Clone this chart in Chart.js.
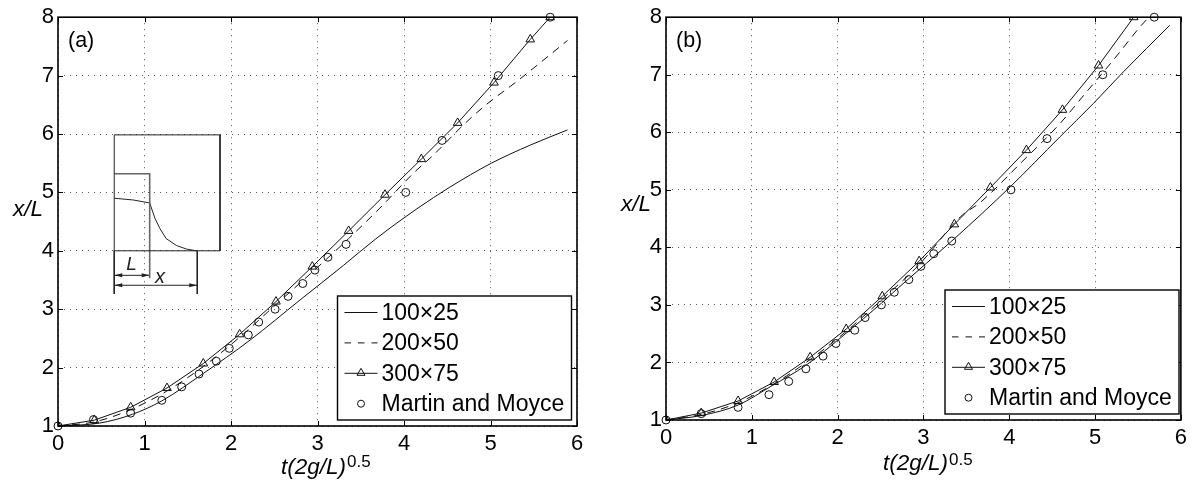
<!DOCTYPE html>
<html>
<head>
<meta charset="utf-8">
<script src="https://cdn.jsdelivr.net/npm/chart.js@4/dist/chart.umd.min.js"></script>
<style>
  body { margin: 0; background: #fff; }
  canvas { position: absolute; top: 0; }
  #chartA { left: 0; }
  #chartB { left: 596px; }
</style>
</head>
<body>
<canvas id="chartA" width="596" height="481"></canvas>
<canvas id="chartB" width="596" height="481"></canvas>
<script>
const seriesNames = ['100×25', '200×50', '300×75', 'Martin and Moyce'];
const xTicks = [0, 1, 2, 3, 4, 5, 6];
const yTicks = [1, 2, 3, 4, 5, 6, 7, 8];

const moyceX = [0, 0.41, 0.84, 1.2, 1.43, 1.63, 1.83, 1.98, 2.2, 2.32, 2.51, 2.66, 2.83, 2.97, 3.12, 3.33, 4.02, 4.44, 5.09, 5.69];
const moyceY = [1, 1.11, 1.22, 1.44, 1.67, 1.89, 2.11, 2.33, 2.56, 2.78, 3, 3.22, 3.44, 3.67, 3.89, 4.11, 5, 5.89, 7, 8];

// panel (a)
const a100X = [0, 0.48, 0.86, 1.2, 1.68, 2.22, 2.8, 3.3, 3.67, 4.15, 4.53, 5.01, 5.46, 5.89];
const a100Y = [1, 1.05, 1.2, 1.43, 1.9, 2.47, 3.16, 3.75, 4.2, 4.72, 5.09, 5.5, 5.81, 6.07];
const a200X = [0, 0.42, 0.84, 1.26, 1.68, 2.1, 2.52, 2.95, 3.36, 3.72, 4.11, 4.34, 4.69, 4.94, 5.33, 5.89];
const a200Y = [1, 1.07, 1.28, 1.6, 2.02, 2.52, 3.08, 3.65, 4.21, 4.73, 5.33, 5.64, 6.16, 6.49, 6.93, 7.6];
const a300X = [0, 0.42, 0.84, 1.26, 1.68, 2.1, 2.52, 2.94, 3.36, 3.78, 4.2, 4.62, 5.04, 5.46, 5.69];
const a300Y = [1, 1.1, 1.32, 1.65, 2.07, 2.57, 3.13, 3.73, 4.34, 4.96, 5.57, 6.19, 6.88, 7.62, 8];

// panel (b)
const b100X = [0, 0.42, 0.84, 1.24, 1.63, 2.1, 2.51, 2.71, 3.36, 4.01, 4.59, 4.98, 5.33, 5.87];
const b100Y = [1, 1.08, 1.26, 1.6, 1.95, 2.51, 3.03, 3.3, 4.15, 5.05, 5.92, 6.5, 7.05, 7.86];
const b200X = [0, 0.42, 0.84, 1.26, 1.68, 2.1, 2.52, 2.95, 3.43, 3.67, 4.13, 4.59, 4.9, 5.21, 5.54, 5.64];
const b200Y = [1, 1.1, 1.3, 1.63, 2.05, 2.54, 3.1, 3.7, 4.53, 4.79, 5.46, 6.15, 6.7, 7.25, 7.86, 8.02];
const b300X = [0, 0.41, 0.84, 1.26, 1.68, 2.1, 2.52, 2.95, 3.36, 3.78, 4.2, 4.62, 5.04, 5.45];
const b300Y = [1, 1.12, 1.33, 1.66, 2.09, 2.58, 3.15, 3.76, 4.4, 5.04, 5.69, 6.39, 7.16, 8];

// inset sketch in panel (a), in axis units
const insetBoxX = [0.65, 1.873, 1.873, 0.65, 0.65];
const insetBoxY = [5.985, 5.985, 4, 4, 5.985];
const insetStepX = [0.65, 1.06, 1.06];
const insetStepY = [5.32, 5.32, 3.53];
const insetCurveX = [0.65, 0.87, 1.06, 1.12, 1.175, 1.25, 1.37, 1.485, 1.6];
const insetCurveY = [4.9, 4.87, 4.82, 4.56, 4.39, 4.21, 4.09, 4.03, 4];
const insetTickLX = [0.65, 0.65];
const insetTickLY = [4, 3.26];
const insetTickXX = [1.61, 1.61];
const insetTickXY = [4, 3.26];
const arrowLX = [0.65, 1.06];
const arrowLY = [3.58, 3.58];
const arrowXX = [0.65, 1.61];
const arrowXY = [3.41, 3.41];

const pts = (xs, ys) => xs.map((x, i) => ({ x: x, y: ys[i] }));
const FONT = '"Liberation Sans", Arial, sans-serif';
const INK = '#111';

function sketchLine(xs, ys, color, width) {
  return {
    label: '', data: pts(xs, ys), borderColor: color || '#222', borderWidth: width || 1,
    pointRadius: 0, tension: 0
  };
}

function mainSets(x100, y100, x200, y200, x300, y300) {
  return [
    { label: seriesNames[0], data: pts(x100, y100), borderColor: INK, borderWidth: 1, pointRadius: 0, cubicInterpolationMode: 'monotone' },
    { label: seriesNames[1], data: pts(x200, y200), borderColor: INK, borderWidth: 1, borderDash: [8, 6], pointRadius: 0, cubicInterpolationMode: 'monotone' },
    { label: seriesNames[2], data: pts(x300, y300), borderColor: INK, borderWidth: 1, pointStyle: 'triangle', pointRadius: 5, pointBorderColor: INK, pointBackgroundColor: 'transparent', pointBorderWidth: 1, tension: 0 },
    { label: seriesNames[3], data: pts(moyceX, moyceY), showLine: false, borderColor: INK, pointStyle: 'circle', pointRadius: 4, pointBorderColor: INK, pointBackgroundColor: 'transparent', pointBorderWidth: 1, clip: false }
  ];
}

// frame, inward ticks, axis titles, panel tag, legend box
const panelDecor = {
  id: 'panelDecor',
  afterDatasetsDraw(chart, args, o) {
    const { ctx, chartArea: c, scales: { x, y } } = chart;
    ctx.save();
    ctx.strokeStyle = '#000';
    ctx.lineWidth = 1;
    xTicks.forEach(v => {
      const p = Math.round(x.getPixelForValue(v)) + 0.5;
      ctx.beginPath();
      ctx.moveTo(p, c.top); ctx.lineTo(p, c.top + 5);
      ctx.moveTo(p, c.bottom); ctx.lineTo(p, c.bottom - 5);
      ctx.stroke();
    });
    yTicks.forEach(v => {
      const p = Math.round(y.getPixelForValue(v)) + 0.5;
      ctx.beginPath();
      ctx.moveTo(c.left, p); ctx.lineTo(c.left + 5, p);
      ctx.moveTo(c.right, p); ctx.lineTo(c.right - 5, p);
      ctx.stroke();
    });
    ctx.lineWidth = 1.6;
    ctx.strokeRect(c.left, c.top, c.right - c.left, c.bottom - c.top);

    ctx.fillStyle = '#000';
    ctx.textBaseline = 'alphabetic';
    ctx.textAlign = 'left';
    ctx.font = '21.5px ' + FONT;
    ctx.fillText(o.tag, c.left + 10, c.top + 30);

    ctx.font = 'italic 22.5px ' + FONT;
    ctx.fillText('x/L', o.yTitleX, o.yTitleY);
    ctx.fillText('t(2g/L)', o.xTitleX, o.xTitleBase);
    const w = ctx.measureText('t(2g/L)').width;
    ctx.font = '17px ' + FONT;
    ctx.fillText('0.5', o.xTitleX + w + 1, o.xSupBase);

    // legend
    const lg = o.legend;
    ctx.fillStyle = '#fff';
    ctx.fillRect(lg.left, lg.top, lg.right - lg.left, lg.bottom - lg.top);
    ctx.lineWidth = 1.4;
    ctx.strokeStyle = '#000';
    ctx.strokeRect(lg.left, lg.top, lg.right - lg.left, lg.bottom - lg.top);
    seriesNames.forEach((name, i) => {
      const ly = lg.top + 16.5 + i * 30.4;
      const sx = lg.left + 7, ex = lg.left + 40, mx = (sx + ex) / 2;
      ctx.lineWidth = 1;
      ctx.strokeStyle = INK;
      if (i < 3) {
        ctx.setLineDash(i === 1 ? [6.5, 7] : []);
        ctx.beginPath(); ctx.moveTo(sx, ly); ctx.lineTo(ex, ly); ctx.stroke();
        ctx.setLineDash([]);
      }
      if (i === 2) {
        ctx.beginPath();
        ctx.moveTo(mx, ly - 5); ctx.lineTo(mx + 4, ly + 2); ctx.lineTo(mx - 4, ly + 2); ctx.closePath();
        ctx.stroke();
      }
      if (i === 3) {
        ctx.beginPath(); ctx.arc(mx, ly, 3.5, 0, Math.PI * 2); ctx.stroke();
      }
      ctx.fillStyle = '#000';
      ctx.font = '23px ' + FONT;
      ctx.textBaseline = 'middle';
      ctx.fillText(name, lg.left + 44, ly + 1);
    });
    ctx.restore();
  }
};

// dimension arrows and labels of the inset sketch
const insetMarks = {
  id: 'insetMarks',
  afterDatasetsDraw(chart) {
    if (chart.canvas.id !== 'chartA') return;
    const { ctx, scales: { x, y } } = chart;
    ctx.save();
    ctx.fillStyle = '#222';
    const head = (px, py, dir) => {
      ctx.beginPath();
      ctx.moveTo(px, py);
      ctx.lineTo(px + dir * 8, py - 2);
      ctx.lineTo(px + dir * 8, py + 2);
      ctx.closePath();
      ctx.fill();
    };
    [[arrowLX, arrowLY], [arrowXX, arrowXY]].forEach(([xs, ys]) => {
      const py = y.getPixelForValue(ys[0]);
      head(x.getPixelForValue(xs[0]), py, 1);
      head(x.getPixelForValue(xs[1]), py, -1);
    });
    ctx.textAlign = 'center';
    ctx.textBaseline = 'alphabetic';
    ctx.font = 'italic 19px ' + FONT;
    ctx.fillText('L', x.getPixelForValue(0.85), y.getPixelForValue(3.67));
    ctx.font = 'italic 20px ' + FONT;
    ctx.fillText('x', x.getPixelForValue(1.18), y.getPixelForValue(3.457));
    ctx.restore();
  }
};

function makePanel(id, datasets, area, decor) {
  return new Chart(document.getElementById(id), {
    type: 'line',
    data: { datasets: datasets },
    options: {
      responsive: false,
      animation: false,
      layout: { padding: { top: area.top, right: 596 - area.right, left: 0, bottom: 0 } },
      plugins: { legend: { display: false }, tooltip: { enabled: false }, panelDecor: decor },
      scales: {
        x: {
          type: 'linear', min: 0, max: 6,
          afterFit: s => { s.height = 481 - area.bottom; },
          afterBuildTicks: s => { s.ticks = xTicks.map(v => ({ value: v })); },
          grid: { color: '#555', drawTicks: false },
          border: { display: false, dash: [1, 5] },
          ticks: { color: '#000', font: { family: FONT, size: 22 }, padding: 5, maxRotation: 0, autoSkip: false }
        },
        y: {
          min: 1, max: 8,
          afterFit: s => { s.width = area.left; },
          afterBuildTicks: s => { s.ticks = yTicks.map(v => ({ value: v })); },
          grid: { color: '#555', drawTicks: false },
          border: { display: false, dash: [1, 5] },
          ticks: { color: '#000', font: { family: FONT, size: 22 }, padding: 4, autoSkip: false }
        }
      }
    },
    plugins: [panelDecor, insetMarks]
  });
}

makePanel('chartA',
  mainSets(a100X, a100Y, a200X, a200Y, a300X, a300Y).concat([
    sketchLine(insetBoxX, insetBoxY),
    sketchLine(insetStepX, insetStepY, '#666', 1.6),
    sketchLine(insetCurveX, insetCurveY),
    sketchLine(insetTickLX, insetTickLY),
    sketchLine(insetTickXX, insetTickXY),
    sketchLine(arrowLX, arrowLY),
    sketchLine(arrowXX, arrowXY)
  ]),
  { left: 58, right: 577, top: 17, bottom: 426 },
  { tag: '(a)', yTitleX: 13, yTitleY: 216, xTitleX: 281, xTitleBase: 474, xSupBase: 467,
    legend: { left: 337.5, right: 571.5, top: 296, bottom: 420 } });

makePanel('chartB',
  mainSets(b100X, b100Y, b200X, b200Y, b300X, b300Y),
  { left: 70, right: 589, top: 17, bottom: 420 },
  { tag: '(b)', yTitleX: 25, yTitleY: 211, xTitleX: 287, xTitleBase: 470, xSupBase: 465,
    legend: { left: 349, right: 583, top: 290, bottom: 414 } });
</script>
</body>
</html>
